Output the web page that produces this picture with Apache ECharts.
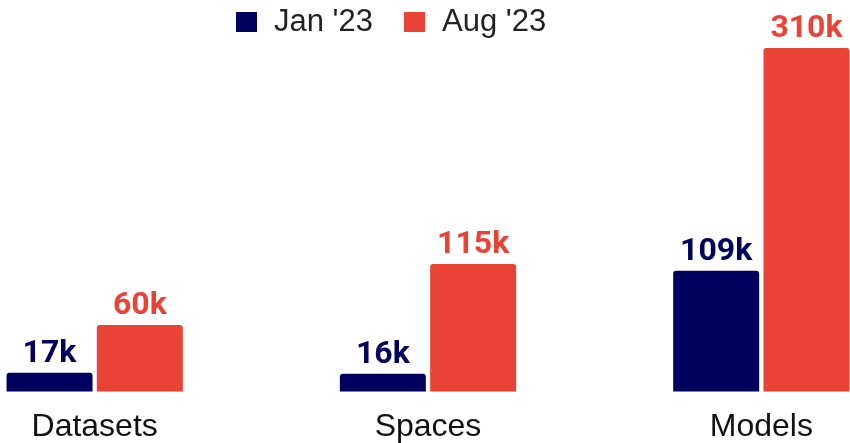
<!DOCTYPE html>
<html>
<head>
<meta charset="utf-8">
<style>
  html, body { margin: 0; padding: 0; background: #fff; }
  #chart { width: 850px; height: 443px; }
</style>
<script src="https://cdn.jsdelivr.net/npm/echarts@6/dist/echarts.min.js"></script>
</head>
<body>
<div id="chart"></div>
<script>
const categories = ["Datasets", "Spaces", "Models"];
const seriesNames = ["Jan '23", "Aug '23"];
const jan23 = [17, 16, 109];
const aug23 = [60, 115, 310];
const colors = ["#00005E", "#E94336"];

const chart = echarts.init(document.getElementById("chart"));

function barSeries(name, data, color) {
  return {
    name: name,
    type: "bar",
    data: data,
    barWidth: 86,
    barGap: "5%",
    itemStyle: { color: color, borderRadius: [3, 3, 0, 0] },
    label: {
      show: true,
      position: "top",
      distance: 3,
      formatter: p => p.value + "k",
      color: color,
      fontFamily: "Roboto",
      fontWeight: "bold",
      fontSize: 32
    }
  };
}

chart.setOption({
  animation: false,
  color: colors,
  legend: {
    top: 4,
    left: 236,
    padding: 0,
    itemWidth: 21,
    itemHeight: 20,
    itemGap: 31,
    icon: "rect",
    textStyle: {
      fontFamily: "Liberation Sans",
      fontSize: 31,
      lineHeight: 36,
      color: "#222",
      padding: [0, 0, 0, 12]
    }
  },
  grid: {
    left: -72, width: 1000, top: 48, bottom: 51.5,
    containLabel: false, outerBoundsMode: "none"
  },
  xAxis: {
    type: "category",
    data: categories,
    axisLine: { show: false },
    axisTick: { show: false },
    axisLabel: {
      margin: 20,
      fontFamily: "Liberation Sans",
      fontSize: 32,
      color: "#111"
    }
  },
  yAxis: {
    type: "value",
    min: 0,
    max: 310,
    show: false,
    splitLine: { show: false }
  },
  series: [
    barSeries(seriesNames[0], jan23, colors[0]),
    barSeries(seriesNames[1], aug23, colors[1])
  ]
});
</script>
</body>
</html>
